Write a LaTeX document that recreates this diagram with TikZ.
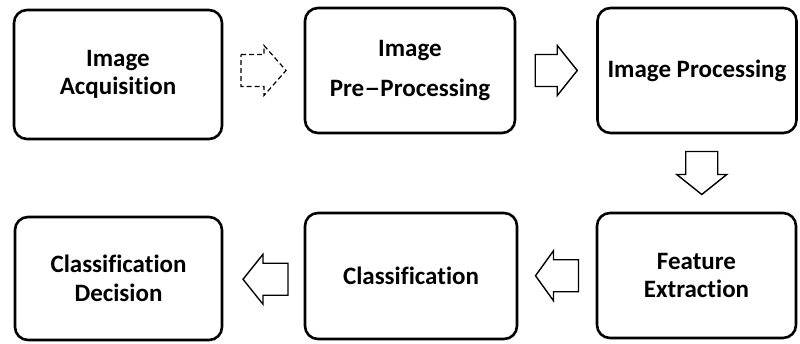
\documentclass[tikz,border=0pt]{standalone}
\usepackage{fontspec}
\setmainfont{Carlito}[Ligatures=NoCommon]
\usetikzlibrary{calc}
\tikzset{
  stagebox/.style={draw=black, line width=2.6pt, rounded corners=13pt, fill=white,
    align=center, inner sep=0pt, font=\bfseries\fontsize{25}{28.5}\selectfont},
  blockarrow/.style={draw=black, line width=1.4pt, fill=white, line join=miter},
  faintarrow/.style={draw=black, line width=1.2pt, dash pattern=on 5pt off 3pt, fill=white}
}
\newcommand\blockarr[5]{% center, rotation, style, length, head
  \draw[#3, shift={(#1)}, rotate=#2] (-#4/2,-16) -- (#4/2-#5,-16) -- (#4/2-#5,-25) -- (#4/2,0)
     -- (#4/2-#5,25) -- (#4/2-#5,16) -- (-#4/2,16) -- cycle;}
\begin{document}
\begin{tikzpicture}[x=1pt,y=-1pt]
\useasboundingbox (0,0) rectangle (800,343);
\node[stagebox, minimum width=208pt, minimum height=129pt] (b1) at (118,74.5) {Image\\Acquisition};
\node[stagebox, minimum width=210pt, minimum height=125pt] (b2) at (410,70.5) {Image\\[11pt]Pre\scalebox{1.3}[1]{–}Processing};
\node[stagebox, minimum width=199pt, minimum height=125pt] (b3) at (697,70.5) {\raisebox{4pt}{Image Processing}};
\node[stagebox, minimum width=207pt, minimum height=123pt] (b4) at (118.5,278.5) {Classification\\Decision};
\node[stagebox, minimum width=212pt, minimum height=126pt] (b5) at (411,276) {Classification};
\node[stagebox, minimum width=199pt, minimum height=125pt] (b6) at (696.5,275.5) {Feature\\Extraction};
% connectors: hollow block arrows between boxes
\blockarr{$(b1.east)!0.5!(b2.west)+(0,-2)$}{0}{faintarrow}{45}{22}
\blockarr{$(b2.east)!0.5!(b3.west)$}{0}{blockarrow}{42}{20}
\blockarr{$(b3.south)!0.5!(b6.north)+(5,0)$}{-90}{blockarrow}{43}{20}
\blockarr{$(b6.west)!0.5!(b5.east)$}{180}{blockarrow}{43}{18}
\blockarr{$(b5.west)!0.5!(b4.east)+(2,2)$}{180}{blockarrow}{45}{20}
\end{tikzpicture}
\end{document}
